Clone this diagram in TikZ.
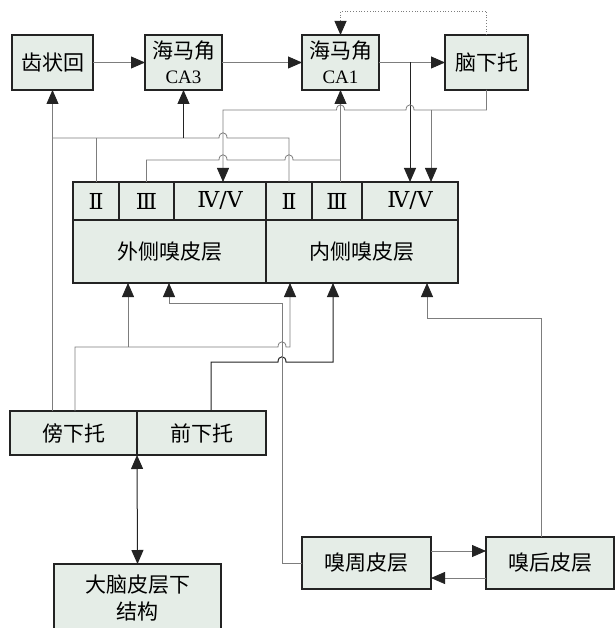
\documentclass[tikz,border=0pt]{standalone}
\usepackage{fontspec}
\setmainfont{Liberation Serif}
\newfontfamily\cjk{Noto Sans CJK SC}
\newfontfamily\numfont{DejaVu Serif}
\usetikzlibrary{arrows.meta}
\definecolor{boxfill}{RGB}{229,237,231}
\definecolor{linegray}{RGB}{125,125,125}
\definecolor{linedark}{RGB}{35,35,35}
\begin{document}
\begin{tikzpicture}[x=1pt,y=-1pt,
  box/.style={draw=linedark, line width=1.3pt, fill=boxfill, inner sep=0pt, outer sep=0pt,
    align=center, font=\cjk\fontsize{21}{25}\selectfont},
  cell/.style={box, font=\numfont\fontsize{22}{24}\selectfont},
  conn/.style={draw=linegray, line width=0.8pt},
  dark/.style={draw=linedark, line width=1pt},
  dots/.style={draw=linegray, line width=0.8pt, dotted},
  tip/.style={-{Triangle[length=14pt,width=12pt,color=linedark]}},
  tipboth/.style={{Triangle[length=14pt,width=12pt,color=linedark]}-{Triangle[length=14pt,width=12pt,color=linedark]}},
  hump/.style={insert path={-- ({#1-4},\hy) .. controls ({#1-4},{\hy-7}) and ({#1+4},{\hy-7}) .. ({#1+4},\hy)}}
]
\useasboundingbox (0,0) rectangle (615,628);
\fill[white] (0,0) rectangle (615,628);

% top row
\node[box, minimum width=81pt, minimum height=55pt] (dg) at (52.5,62.5) {齿状回};
\node[box, minimum width=77pt, minimum height=55pt] (ca3) at (183.5,62.5) {海马角\\{\rmfamily\fontsize{19}{24}\selectfont CA3}};
\node[box, minimum width=77pt, minimum height=55pt] (ca1) at (340.5,62.5) {海马角\\{\rmfamily\fontsize{19}{24}\selectfont CA1}};
\node[box, minimum width=83pt, minimum height=55pt] (sub) at (486.5,62.5) {脑下托};

% entorhinal block
\node[box, minimum width=193pt, minimum height=63pt] (lec) at (169.5,251.5) {外侧嗅皮层};
\node[box, minimum width=192pt, minimum height=63pt] (mec) at (362,251.5) {内侧嗅皮层};
\node[cell, minimum width=46pt, minimum height=38pt] (l2) at (96,201) {Ⅱ};
\node[cell, minimum width=55pt, minimum height=38pt] (l3) at (146.5,201) {Ⅲ};
\node[cell, minimum width=92pt, minimum height=38pt] (l45) at (220,201) {Ⅳ/Ⅴ};
\node[cell, minimum width=46pt, minimum height=38pt] (m2) at (289,201) {Ⅱ};
\node[cell, minimum width=50pt, minimum height=38pt] (m3) at (337,201) {Ⅲ};
\node[cell, minimum width=96pt, minimum height=38pt] (m45) at (410,201) {Ⅳ/Ⅴ};

% subiculum complex
\node[box, minimum width=127pt, minimum height=44pt] (para) at (73.5,433) {傍下托};
\node[box, minimum width=129pt, minimum height=44pt] (pre) at (201.5,433) {前下托};
\node[box, minimum width=167pt, minimum height=68pt] (sc) at (137.5,598) {大脑皮层下\\[2pt]结构};

% perirhinal / postrhinal
\node[box, minimum width=129pt, minimum height=52pt] (pr) at (366.5,563) {嗅周皮层};
\node[box, minimum width=128pt, minimum height=52pt] (po) at (550,563) {嗅后皮层};

% coordinates
\coordinate (l45in) at (223,182);
\coordinate (m45in) at (431,182);

% top chain
\draw[conn,tip] (dg.east) -- (ca3.west);
\draw[conn,tip] (ca3.east) -- (ca1.west);
\draw[conn,tip] (ca1.east) -- (sub.west);
\draw[dark,tip] (ca1.east -| m45.north) -- (m45.north);
\draw[dots,tip] (sub.north) -- (sub.north |- 0,11) -- (ca1.north |- 0,11) -- (ca1.north);

% subiculum -> EC deep layers (y 110)
\def\hy{110}
\draw[conn,{Triangle[length=14pt,width=12pt,color=linedark]}-] (l45in) -- (l45in |- 0,110)
  [hump=340.5] [hump=410] -- (sub.south |- 0,110) -- (sub.south);
\draw[conn,tip] (m45in |- 0,110) -- (m45in);

% layer II -> DG, CA3 (y 138)
\def\hy{138}
\draw[conn] (dg.south |- 0,138) [hump=223] -- (m2.north |- 0,138) -- (m2.north);
\draw[conn] (l2.north |- 0,138) -- (l2.north);
\draw[dark,tip] (ca3.south |- 0,138) -- (ca3.south);
\draw[conn,tip] (para.north -| dg.south) -- (dg.south);

% layer III -> CA1 (y 160)
\def\hy{160}
\draw[conn] (l3.north) -- (l3.north |- 0,160) [hump=223] [hump=289] -- (ca1.south |- 0,160);
\draw[conn,tip] (ca1.south |- m3.north) -- (ca1.south);

% parasubiculum / presubiculum -> EC (y 347, 362)
\def\hy{347}
\draw[conn,tip] (para.north -| 75,0) -- (75,347) [hump=282] -- (290,347) -- (mec.south -| 290,0);
\draw[conn,tip] (128,347) -- (lec.south -| 128,0);
\def\hy{362}
\draw[dark,tip] (pre.north -| 211,0) -- (211,362) [hump=282] -- (333,362) -- (mec.south -| 333,0);

% perirhinal -> LEC
\draw[conn,tip] (pr.west) -- (282,563) -- (282,303) -- (169,303) -- (lec.south -| 169,0);
% postrhinal -> MEC
\draw[conn,tip] (po.north -| 541,0) -- (541,318) -- (427,318) -- (mec.south -| 427,0);

% perirhinal <-> postrhinal
\draw[conn,tip] (pr.east |- 0,551) -- (po.west |- 0,551);
\draw[conn,tip] (po.west |- 0,578) -- (pr.east |- 0,578);

% subiculum complex <-> subcortical
\draw[dark,tipboth] (pre.south west) -- (sc.north);
\end{tikzpicture}
\end{document}
